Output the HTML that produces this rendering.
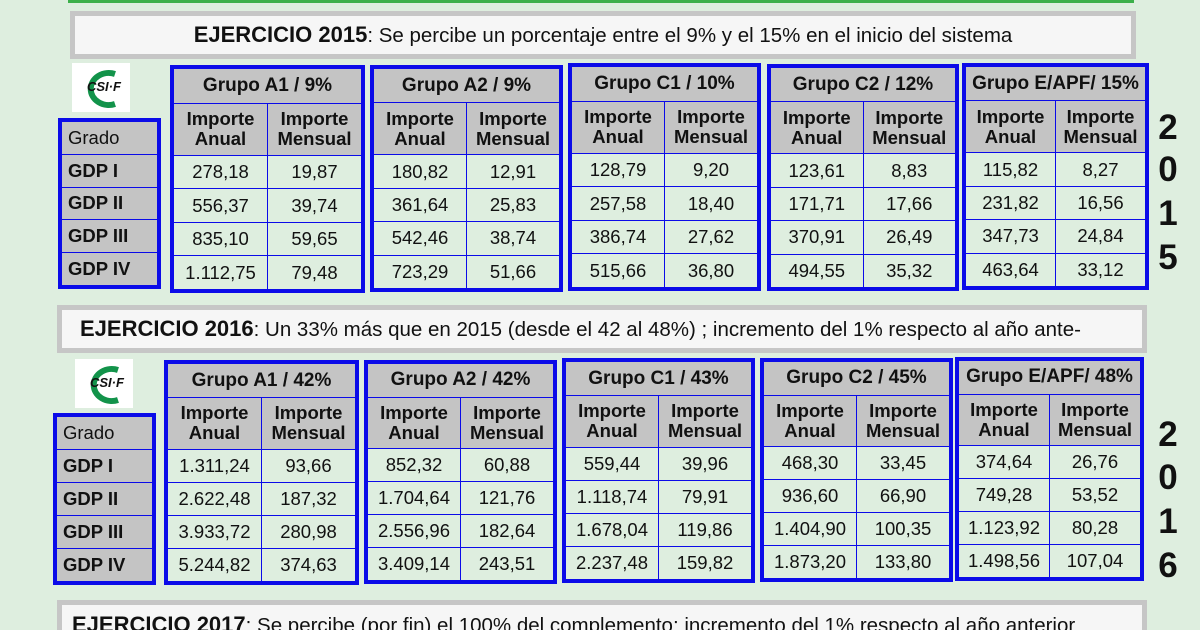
<!DOCTYPE html>
<html><head><meta charset="utf-8">
<style>
html,body{margin:0;width:1200px;height:630px;overflow:hidden}
body{background:#deeedf;font-family:"Liberation Sans",sans-serif;position:relative}
.abs{position:absolute;box-sizing:border-box}
.banner{background:#f6f6f6;border:5px solid #c6c6c6;font-size:20.5px;color:#111;white-space:nowrap;overflow:hidden;display:flex;align-items:center}
.banner b{font-size:22px}
.tbl{border:4px solid #0b0be8;background:#0b0be8;display:grid;gap:1px}
.tbl div{display:flex;align-items:center;justify-content:center;text-align:center;font-size:18.5px;color:#111;line-height:20px}
.h{background:#c4c4c4;font-weight:bold}
.d{background:#deeedf}
.g{background:#c4c4c4;font-weight:bold;justify-content:flex-start!important;padding-left:6px}
.logo{background:#fff;display:flex;align-items:center;justify-content:center}
.digit{font-size:35px;font-weight:bold;color:#111;width:30px;text-align:center}
</style></head><body>
<div class="abs" style="left:68px;top:0;width:1066px;height:3px;background:#3cb04a"></div>
<div class="abs banner" style="left:70px;top:11px;width:1066px;height:48px;justify-content:center"><span><b>EJERCICIO 2015</b>: Se percibe un porcentaje entre el 9% y el 15% en el inicio del sistema</span></div>
<div class="abs banner" style="left:57px;top:305px;width:1090px;height:48px;padding-left:18px"><span><b>EJERCICIO 2016</b>: Un 33% más que en 2015 (desde el 42 al 48%) ; incremento del 1% respecto al año ante-</span></div>
<div class="abs banner" style="left:57px;top:600px;width:1090px;height:48px;padding-left:10px;align-items:flex-start;padding-top:7px"><span><b>EJERCICIO 2017</b>: Se percibe (por fin) el 100% del complemento; incremento del 1% respecto al año anterior</span></div>
<div id="root"></div>
<script>
const groups2015=["Grupo A1 / 9%","Grupo A2 / 9%","Grupo C1 / 10%","Grupo C2 / 12%","Grupo E/APF/ 15%"];
const groups2016=["Grupo A1  / 42%","Grupo A2 / 42%","Grupo C1 / 43%","Grupo C2 / 45%","Grupo E/APF/ 48%"];
const grados=["GDP I","GDP II","GDP III","GDP IV"];
const data2015=[
[["278,18","19,87"],["556,37","39,74"],["835,10","59,65"],["1.112,75","79,48"]],
[["180,82","12,91"],["361,64","25,83"],["542,46","38,74"],["723,29","51,66"]],
[["128,79","9,20"],["257,58","18,40"],["386,74","27,62"],["515,66","36,80"]],
[["123,61","8,83"],["171,71","17,66"],["370,91","26,49"],["494,55","35,32"]],
[["115,82","8,27"],["231,82","16,56"],["347,73","24,84"],["463,64","33,12"]]];
const data2016=[
[["1.311,24","93,66"],["2.622,48","187,32"],["3.933,72","280,98"],["5.244,82","374,63"]],
[["852,32","60,88"],["1.704,64","121,76"],["2.556,96","182,64"],["3.409,14","243,51"]],
[["559,44","39,96"],["1.118,74","79,91"],["1.678,04","119,86"],["2.237,48","159,82"]],
[["468,30","33,45"],["936,60","66,90"],["1.404,90","100,35"],["1.873,20","133,80"]],
[["374,64","26,76"],["749,28","53,52"],["1.123,92","80,28"],["1.498,56","107,04"]]];
const root=document.getElementById('root');
function box(cls,x,y,w,h){const e=document.createElement('div');e.className='abs '+cls;e.style.left=x+'px';e.style.top=y+'px';e.style.width=w+'px';e.style.height=h+'px';root.appendChild(e);return e;}
function cell(p,cls,txt){const c=document.createElement('div');c.className=cls;c.innerHTML=txt;p.appendChild(c);return c;}
function group(x,y,w,h,title,rows){
 const t=box('tbl',x,y,w,h);
 
 
 t.style.gridTemplateColumns='1fr 1fr';
 t.style.gridTemplateRows='34fr 52fr 33fr 33fr 33fr 33fr';
 const hd=cell(t,'h',title);hd.style.gridColumn='1 / 3';hd.style.fontSize='19px';
 
 
 const a=cell(t,'h','Importe<br>Anual');
 
 
 const m=cell(t,'h','Importe<br>Mensual');
 
 
 rows.forEach(r=>{r.forEach(v=>{const c=cell(t,'d',v);
 
 });});
}
function grado(x,y,w,h){
 const t=box('tbl',x,y,w,h);
 
 
 t.style.gridTemplateRows='repeat(5,1fr)';
 ['Grado'].concat(grados).forEach(g=>{const c=cell(t,'g',g);
 
 });
 t.firstChild.style.fontWeight='normal';
}
function logo(x,y){
 const l=box('logo',x,y,58,49);
 
 
 l.innerHTML='<svg width="52" height="44"><path d="M40 8 A18 16 0 1 0 40 38" stroke="#12934a" stroke-width="6" fill="none"/><text x="12" y="25" font-family="Liberation Sans" font-weight="bold" font-style="italic" font-size="13" fill="#111">CSI·F</text></svg>';
}
function digits(x,ys,txt){
 ys.forEach((y,i)=>{const d=box('digit',x,y,30,40);d.textContent=txt[i];
 
 });
}
const x15=[[170,65,195,228],[370,65,193,227],[568,63,193,228],[767,64,192,227],[962,63,187,227]];
const x16=[[164,360,195,225],[364,360,193,224],[562,358,193,225],[760,358,193,224],[955,357,189,224]];
logo(72,63);grado(58,118,103,171);
x15.forEach((p,i)=>group(p[0],p[1],p[2],p[3],groups2015[i],data2015[i]));
digits(1153,[108,150,194,238],"2015");
logo(75,359);grado(53,413,103,172);
x16.forEach((p,i)=>group(p[0],p[1],p[2],p[3],groups2016[i],data2016[i]));
digits(1153,[415,458,502,546],"2016");
</script>
</body></html>
